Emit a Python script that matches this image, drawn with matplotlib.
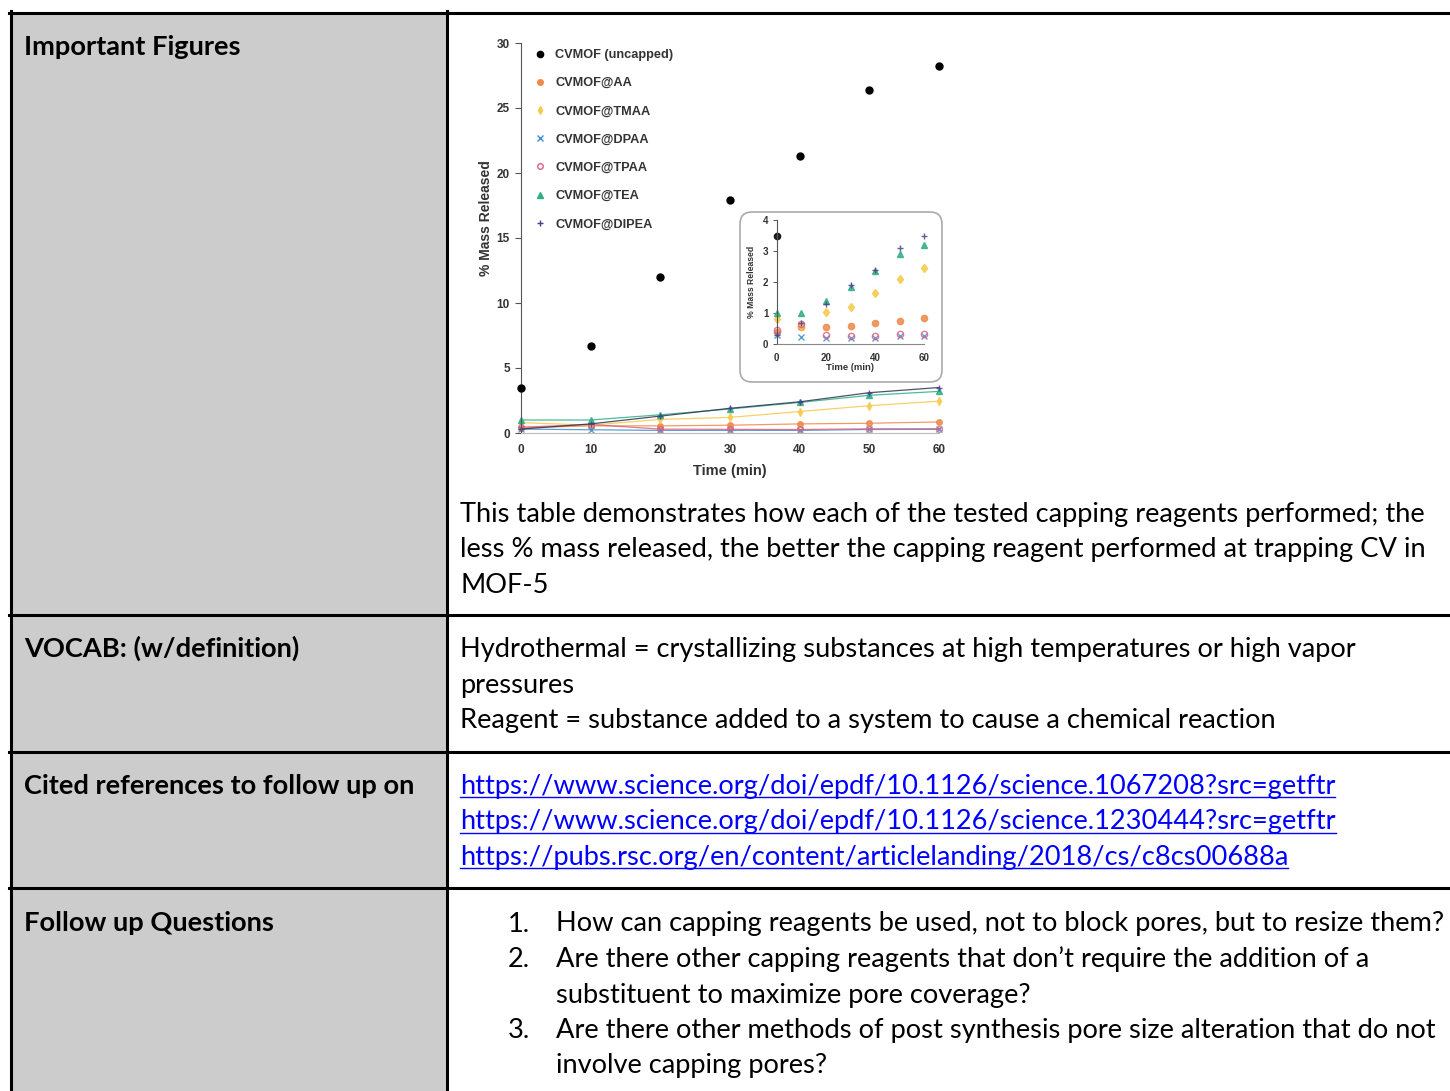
import numpy as np
import matplotlib
matplotlib.use("Agg")
import matplotlib.pyplot as plt
from matplotlib.lines import Line2D
from matplotlib.patches import Rectangle, FancyBboxPatch

# --- Datos del gráfico ---
time_min = [0, 10, 20, 30, 40, 50, 60]
uncapped = [3.5, 6.7, 12.0, 17.9, 21.3, 26.4, 28.2]
aa = [0.4, 0.55, 0.55, 0.6, 0.7, 0.75, 0.85]
tmaa = [0.8, 0.6, 1.05, 1.2, 1.65, 2.1, 2.45]
dpaa = [0.3, 0.25, 0.2, 0.2, 0.2, 0.27, 0.28]
tpaa = [0.45, 0.65, 0.3, 0.28, 0.27, 0.32, 0.33]
tea = [1.0, 1.0, 1.4, 1.85, 2.35, 2.9, 3.2]
dipea = [0.3, 0.7, 1.3, 1.9, 2.4, 3.1, 3.5]

series_names = ["CVMOF (uncapped)", "CVMOF@AA", "CVMOF@TMAA", "CVMOF@DPAA",
                "CVMOF@TPAA", "CVMOF@TEA", "CVMOF@DIPEA"]
series_values = [uncapped, aa, tmaa, dpaa, tpaa, tea, dipea]
series_colors = ["#000000", "#EE8A4A", "#F7C948", "#3F8FD0", "#E0607E", "#2FAE88", "#4B3F8C"]
series_markers = ["o", "o", "d", "x", "o", "^", "+"]

main_xticks = [0, 10, 20, 30, 40, 50, 60]
main_yticks = [0, 5, 10, 15, 20, 25, 30]
inset_xticks = [0, 20, 40, 60]
inset_yticks = [0, 1, 2, 3, 4]

# --- Textos de la tabla ---
row_labels = ["Important Figures", "VOCAB: (w/definition)",
              "Cited references to follow up on", "Follow up Questions"]
figure_note = ["This table demonstrates how each of the tested capping reagents performed; the",
               "less % mass released, the better the capping reagent performed at trapping CV in",
               "MOF-5"]
vocab_lines = ["Hydrothermal = crystallizing substances at high temperatures or high vapor",
               "pressures",
               "Reagent = substance added to a system to cause a chemical reaction"]
links = ["https://www.science.org/doi/epdf/10.1126/science.1067208?src=getftr",
         "https://www.science.org/doi/epdf/10.1126/science.1230444?src=getftr",
         "https://pubs.rsc.org/en/content/articlelanding/2018/cs/c8cs00688a"]
question_nums = ["1.", "2.", "", "3.", ""]
question_lines = ["How can capping reagents be used, not to block pores, but to resize them?",
                  "Are there other capping reagents that don\u2019t require the addition of a",
                  "substituent to maximize pore coverage?",
                  "Are there other methods of post synthesis pore size alteration that do not",
                  "involve capping pores?"]

W, H = 1450, 1091
def fx(px):
    return px / W
def fy(py):
    return 1 - py / H

TABLE_FONT = ["Lato", "DejaVu Sans"]
CHART_FONT = ["Liberation Sans", "DejaVu Sans"]
TXT_SIZE = 19.6
LINE_H = 35.5

fig = plt.figure(figsize=(W / 100, H / 100), dpi=100)
fig.patch.set_facecolor("white")

# --- Tabla: fondo gris y bordes ---
fig.patches.append(Rectangle((fx(12), 0), fx(446) - fx(12), fy(14), transform=fig.transFigure,
                             facecolor="#CCCCCC", edgecolor="none", zorder=0))
lw = 2.2
for yy in [12.5, 614.5, 751.5, 887.5]:
    fig.add_artist(Line2D([fx(9), 1], [fy(yy), fy(yy)], color="black", lw=lw, transform=fig.transFigure))
for xx in [10.5, 446.5]:
    fig.add_artist(Line2D([fx(xx), fx(xx)], [fy(11), 0], color="black", lw=lw, transform=fig.transFigure))

# etiquetas columna izquierda
for lab, base in zip(row_labels, [55, 657, 794, 931]):
    fig.text(fx(24), fy(base), lab, family=TABLE_FONT, fontsize=TXT_SIZE, fontweight="bold",
             va="baseline", ha="left", color="black")

def put_lines(lines, base, x=460, color="black"):
    out = []
    for i, ln in enumerate(lines):
        out.append(fig.text(fx(x), fy(base + i * LINE_H), ln, family=TABLE_FONT, fontsize=TXT_SIZE,
                            va="baseline", ha="left", color=color))
    return out

put_lines(figure_note, 521.7)
put_lines(vocab_lines, 657)
link_texts = put_lines(links, 794, color="#0000FF")
for i, (num, q) in enumerate(zip(question_nums, question_lines)):
    base = 931.5 + i * LINE_H
    if num:
        fig.text(fx(508), fy(base), num, family=TABLE_FONT, fontsize=TXT_SIZE, va="baseline", ha="left")
    fig.text(fx(556.5), fy(base), q, family=TABLE_FONT, fontsize=TXT_SIZE, va="baseline", ha="left")

# --- Gráfico principal ---
ax = fig.add_axes([fx(521), fy(433), fx(939) - fx(521), fy(43) - fy(433)])
for name, vals, col, mk in zip(series_names, series_values, series_colors, series_markers):
    if name == "CVMOF (uncapped)":
        ax.plot(time_min, vals, ls="none", marker=mk, ms=5, color=col, clip_on=False, zorder=5)
    else:
        lcol = "#2E3350" if name == "CVMOF@DIPEA" else col
        fill = "none" if name == "CVMOF@TPAA" else col
        ax.plot(time_min, vals, ls="-", lw=0.9, color=lcol, marker=mk, ms=4, mfc=fill,
                mec=col, mew=1.0, clip_on=False, alpha=0.85)
ax.set_xlim(0, 60)
ax.set_ylim(0, 30)
ax.set_xticks(main_xticks)
ax.set_yticks(main_yticks)
ax.spines["top"].set_visible(False)
ax.spines["right"].set_visible(False)
ax.spines["left"].set_color("#555555")
ax.spines["bottom"].set_color("#BBBBBB")
ax.tick_params(axis="y", direction="out", length=4, width=0.8, color="#555555", pad=4,
               labelsize=8.5, labelcolor="#333333")
ax.tick_params(axis="x", length=0, pad=8, labelsize=8.5, labelcolor="#333333")
for t in ax.get_xticklabels() + ax.get_yticklabels():
    t.set_fontweight("bold")
    t.set_family(CHART_FONT)
ax.set_xlabel("Time (min)", family=CHART_FONT, fontweight="bold", fontsize=10.5, color="#333333")
ax.set_ylabel("% Mass Released", family=CHART_FONT, fontweight="bold", fontsize=10, color="#333333")
ax.xaxis.set_label_coords(0.5, -0.08)
ax.yaxis.set_label_coords(-0.068, 0.551)

handles = []
for name, col, mk in zip(series_names, series_colors, series_markers):
    fill = "none" if name == "CVMOF@TPAA" else col
    handles.append(Line2D([], [], ls="none", marker=mk, ms=4 if name != "CVMOF (uncapped)" else 4.5,
                          color=col, mfc=fill, mec=col))
leg = ax.legend(handles, series_names, loc="upper left", bbox_to_anchor=(fx(534), fy(49)),
                bbox_transform=fig.transFigure, frameon=False, handlelength=0.9,
                handletextpad=0.75, labelspacing=1.27, borderpad=0, borderaxespad=0,
                prop={"family": CHART_FONT, "weight": "bold", "size": 9.2})
for t in leg.get_texts():
    t.set_color("#333333")

# --- Recuadro (inset) ---
box = FancyBboxPatch((740 / 100, (H - 382) / 100), (942 - 740) / 100, (382 - 212) / 100,
                     boxstyle="round,pad=0,rounding_size=0.12", transform=fig.dpi_scale_trans,
                     facecolor="white", edgecolor="#AAAAAA", lw=1.2, zorder=3)
fig.patches.append(box)

axi = fig.add_axes([fx(776.7), fy(344.3), fx(924.3) - fx(776.7), fy(220) - fy(344.3)], zorder=4)
axi.patch.set_alpha(0)
for name, vals, col, mk in zip(series_names, series_values, series_colors, series_markers):
    v = np.array(vals, dtype=float)
    v[v > 4] = np.nan
    fill = "none" if name == "CVMOF@TPAA" else col
    axi.plot(time_min, v, ls="none", marker=mk, ms=4.5, color=col, mfc=fill, mec=col,
             clip_on=False, alpha=0.85)
axi.set_xlim(0, 60)
axi.set_ylim(0, 4)
axi.set_xticks(inset_xticks)
axi.set_yticks(inset_yticks)
axi.spines["top"].set_visible(False)
axi.spines["right"].set_visible(False)
axi.spines["left"].set_color("#555555")
axi.spines["bottom"].set_color("#888888")
axi.tick_params(axis="y", direction="out", length=3, width=0.7, pad=3, labelsize=7,
                labelcolor="#333333", color="#555555")
axi.tick_params(axis="x", length=0, pad=6, labelsize=7, labelcolor="#333333")
for t in axi.get_xticklabels() + axi.get_yticklabels():
    t.set_fontweight("bold")
    t.set_family(CHART_FONT)
axi.set_xlabel("Time (min)", family=CHART_FONT, fontweight="bold", fontsize=6.8, color="#333333")
axi.set_ylabel("% Mass Released", family=CHART_FONT, fontweight="bold", fontsize=6.2, color="#333333")
axi.xaxis.set_label_coords(0.5, -0.15)
axi.yaxis.set_label_coords(-0.14, 0.5)

# subrayado de los enlaces
fig.canvas.draw()
renderer = fig.canvas.get_renderer()
for i, t in enumerate(link_texts):
    bb = t.get_window_extent(renderer)
    yy = fy(794 + i * LINE_H + 3)
    fig.add_artist(Line2D([bb.x0 / W, bb.x1 / W], [yy, yy], color="#0000FF", lw=1.0,
                          transform=fig.transFigure))

fig.savefig("out.png", dpi=100)
